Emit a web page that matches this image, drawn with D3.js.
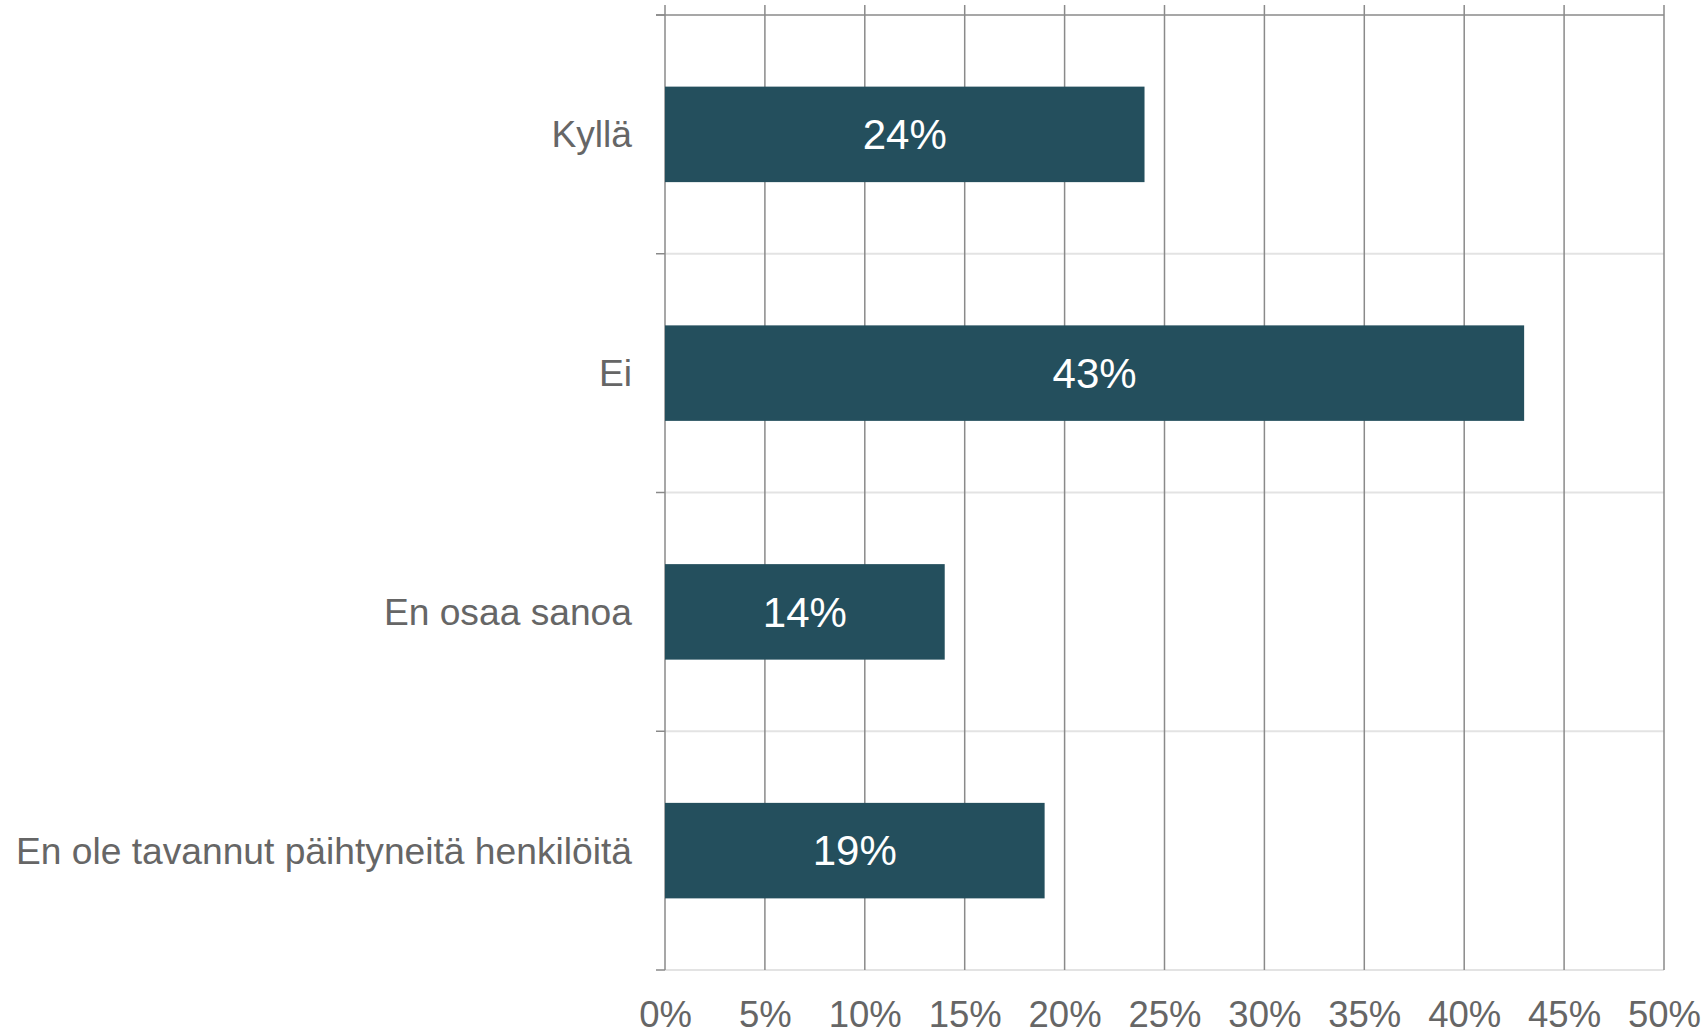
<!DOCTYPE html>
<html>
<head>
<meta charset="utf-8">
<script src="https://cdn.jsdelivr.net/npm/d3@7"></script>
<style>
  body { margin: 0; background: #fff; }
  text { font-family: "Liberation Sans", Arial, sans-serif; }
</style>
</head>
<body>
<script>
// data
const categories = ["Kyllä", "Ei", "En osaa sanoa", "En ole tavannut päihtyneitä henkilöitä"];
const values = [24, 43, 14, 19];
const xTicks = [0, 5, 10, 15, 20, 25, 30, 35, 40, 45, 50];

const width = 1706, height = 1036;
const plotLeft = 665, plotRight = 1664, plotTop = 15, plotBottom = 970;

const svg = d3.select("body").append("svg")
    .attr("width", width)
    .attr("height", height);

const x = d3.scaleLinear().domain([0, 50]).range([plotLeft, plotRight]);

const y = d3.scaleBand()
    .domain(categories)
    .range([plotTop, plotBottom])
    .paddingInner(0.6)
    .paddingOuter(0.3);

const step = y.step();
const boundaries = d3.range(categories.length + 1).map(i => plotTop + i * step);

// light horizontal separators
svg.append("g").selectAll("line")
    .data(boundaries.slice(1))
    .join("line")
    .attr("x1", plotLeft).attr("x2", plotRight)
    .attr("y1", d => d).attr("y2", d => d)
    .attr("stroke", "#e3e3e3")
    .attr("stroke-width", 2);

// top line
svg.append("line")
    .attr("x1", plotLeft - 9).attr("x2", plotRight)
    .attr("y1", plotTop).attr("y2", plotTop)
    .attr("stroke", "#8a8a8a")
    .attr("stroke-width", 1.5);

// vertical gridlines
svg.append("g").selectAll("line")
    .data(xTicks)
    .join("line")
    .attr("x1", d => x(d)).attr("x2", d => x(d))
    .attr("y1", 5).attr("y2", plotBottom)
    .attr("stroke", "#8a8a8a")
    .attr("stroke-width", 1.5);

// left ticks
svg.append("g").selectAll("line")
    .data(boundaries)
    .join("line")
    .attr("x1", plotLeft - 9).attr("x2", plotLeft)
    .attr("y1", d => d).attr("y2", d => d)
    .attr("stroke", "#8a8a8a")
    .attr("stroke-width", 1.5);

// bars
svg.append("g").selectAll("rect")
    .data(values)
    .join("rect")
    .attr("x", x(0))
    .attr("y", (d, i) => y(categories[i]))
    .attr("width", d => x(d) - x(0))
    .attr("height", y.bandwidth())
    .attr("fill", "#244f5d");

// bar labels
svg.append("g").selectAll("text")
    .data(values)
    .join("text")
    .attr("x", d => (x(0) + x(d)) / 2)
    .attr("y", (d, i) => y(categories[i]) + y.bandwidth() / 2)
    .attr("dy", "0.35em")
    .attr("text-anchor", "middle")
    .attr("fill", "#fff")
    .style("font-size", "42px")
    .text(d => d + "%");

// category labels
svg.append("g").selectAll("text")
    .data(categories)
    .join("text")
    .attr("x", plotLeft - 33)
    .attr("y", d => y(d) + y.bandwidth() / 2)
    .attr("dy", "0.35em")
    .attr("text-anchor", "end")
    .attr("fill", "#666")
    .style("font-size", "37.2px")
    .text(d => d);

// x axis labels
const xAxis = svg.append("g")
    .attr("transform", `translate(0,${plotBottom})`)
    .call(d3.axisBottom(x).tickValues(xTicks).tickSize(0).tickPadding(31).tickFormat(d => d + "%"));
xAxis.select(".domain").remove();
xAxis.selectAll("text")
    .attr("fill", "#666")
    .style("font-size", "36.5px")
    .style("font-family", "'Liberation Sans', Arial, sans-serif");
</script>
</body>
</html>
